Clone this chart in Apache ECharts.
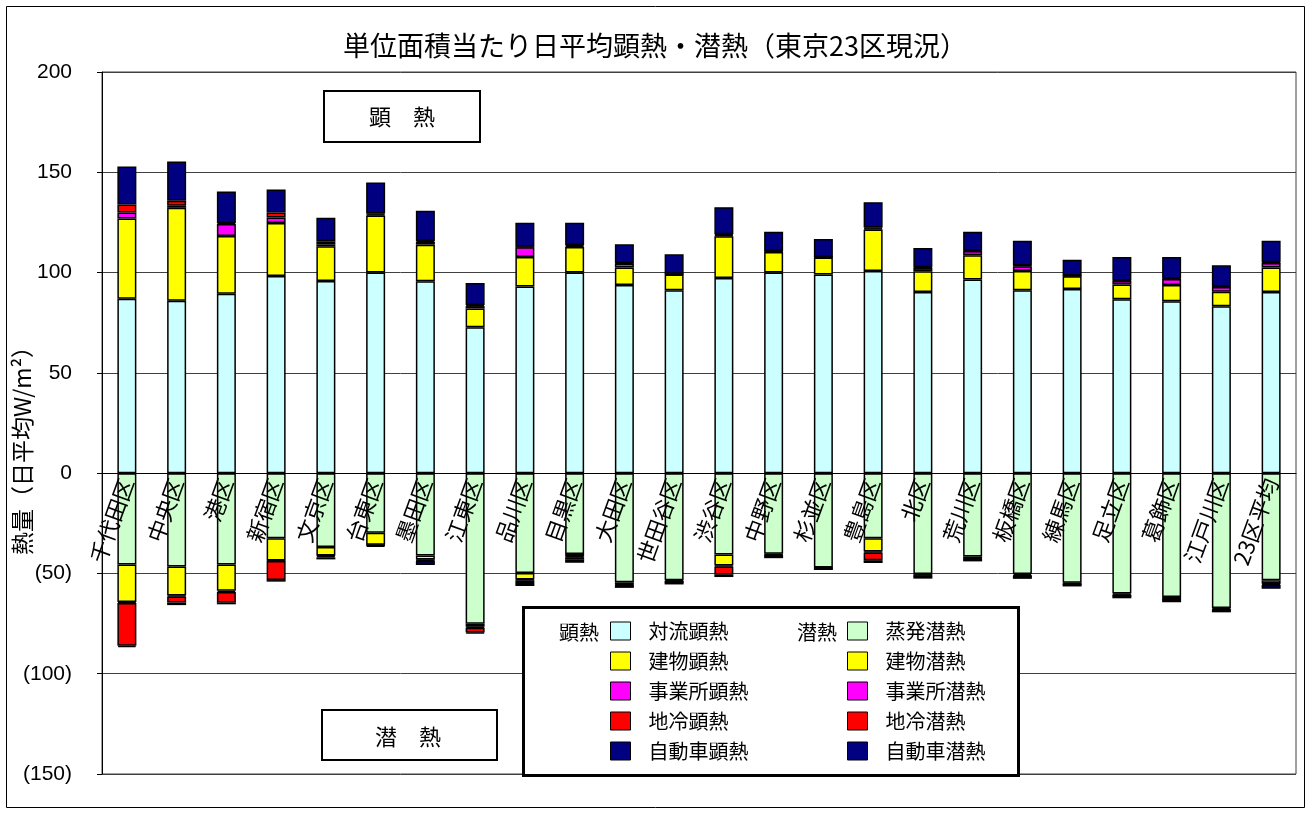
<!DOCTYPE html>
<html>
<head>
<meta charset="utf-8">
<script src="https://cdn.jsdelivr.net/npm/echarts@6/dist/echarts.min.js"></script>
<style>
  html, body { margin: 0; padding: 0; background: #fff; }
  #chart { width: 1310px; height: 814px; }
</style>
</head>
<body>
<div id="chart"></div>
<script>
// Wards of Tokyo plus the 23-ward average
const categories = ['千代田区','中央区','港区','新宿区','文京区','台東区','墨田区','江東区','品川区','目黒区','大田区','世田谷区','渋谷区','中野区','杉並区','豊島区','北区','荒川区','板橋区','練馬区','足立区','葛飾区','江戸川区','23区平均'];

// Sensible heat (W/m2, daily mean)
const convSensible   = [86.9, 85.9, 89.4, 98.3, 95.8, 100.0, 95.7, 72.8, 93.0, 100.0, 93.8, 91.2, 97.3, 100.0, 99.0, 100.8, 90.3, 96.5, 91.2, 91.8, 86.7, 85.7, 83.2, 90.3];
const bldgSensible   = [40.1, 46.4, 28.8, 26.4, 17.3, 28.5, 18.2, 9.3, 14.8, 12.7, 8.7, 7.8, 20.8, 10.3, 8.5, 20.7, 10.3, 12.1, 9.6, 6.4, 7.3, 8.1, 7.3, 12.2];
const officeSensible = [2.9, 1.0, 6.0, 2.7, 1.0, 0.5, 1.4, 1.2, 4.8, 0.5, 2.0, 0.3, 0.5, 0.3, 0.2, 0.5, 1.7, 2.1, 2.4, 0.3, 1.8, 3.0, 2.3, 2.3];
const dhcSensible    = [4.1, 2.5, 0.5, 2.5, 1.5, 0.5, 0.5, 0.5, 0.3, 0.5, 0.3, 0.1, 0.5, 0.2, 0.1, 0.5, 0.3, 0.3, 0.3, 0.1, 0.3, 0.3, 0.2, 0.3];
const carSensible    = [18.9, 19.6, 15.7, 11.5, 11.7, 15.4, 15.0, 11.0, 12.0, 11.2, 9.3, 9.7, 13.5, 9.6, 9.0, 12.6, 9.6, 9.4, 12.4, 7.8, 11.7, 10.7, 10.6, 10.8];

// Latent heat (W/m2, daily mean, plotted downward)
const evapLatent   = [-45.6, -46.5, -45.6, -32.5, -36.8, -29.7, -41.0, -75.1, -49.8, -40.3, -54.4, -53.4, -40.6, -40.2, -47.0, -32.5, -50.3, -41.5, -50.3, -54.7, -60.0, -61.7, -67.2, -53.4];
const bldgLatent   = [-18.6, -14.5, -13.0, -11.0, -4.2, -6.0, -2.1, -1.5, -3.2, -1.2, -1.1, -0.5, -5.5, -0.5, -0.3, -6.6, -0.8, -0.8, -0.7, -0.4, -0.6, -0.8, -0.6, -1.6];
const officeLatent = [-0.5, -0.5, -0.7, -0.3, -0.3, -0.2, -0.3, -0.5, -0.4, -0.4, -0.3, -0.2, -0.5, -0.2, -0.1, -0.5, -0.3, -0.3, -0.3, -0.2, -0.3, -0.3, -0.2, -0.3];
const dhcLatent    = [-21.4, -3.0, -5.3, -9.5, -0.7, -0.3, -0.4, -2.3, -1.4, -1.3, -0.2, -0.1, -4.0, -0.2, -0.1, -3.8, -0.1, -0.2, -0.1, -0.1, -0.1, -0.1, -0.1, -0.5];
const carLatent    = [-0.7, -1.3, -0.8, -0.8, -1.0, -0.6, -2.0, -0.5, -1.5, -1.5, -1.2, -1.3, -1.2, -1.3, -0.8, -1.4, -1.1, -1.2, -1.3, -1.1, -1.4, -1.5, -1.3, -1.9];

const sensibleNames = ['対流顕熱','建物顕熱','事業所顕熱','地冷顕熱','自動車顕熱'];
const latentNames   = ['蒸発潜熱','建物潜熱','事業所潜熱','地冷潜熱','自動車潜熱'];
const sensibleData  = [convSensible, bldgSensible, officeSensible, dhcSensible, carSensible];
const latentData    = [evapLatent, bldgLatent, officeLatent, dhcLatent, carLatent];
const sensibleColors = ['#CCFFFF','#FFFF00','#FF00FF','#FF0000','#000080'];
const latentColors   = ['#CCFFCC','#FFFF00','#FF00FF','#FF0000','#000080'];

const JP  = '"Noto Sans CJK JP", sans-serif';
const NUM = '"Liberation Sans", Arial, sans-serif';

// Value axis range and plot box
const Y_MIN = -150, Y_MAX = 200, Y_STEP = 50;
const GRID = { left: 102, right: 14, top: 72, bottom: 40 };
const CHART_H = 814;
// Category axis sits on the zero line: shift it up from the bottom edge of the plot
const plotH = CHART_H - GRID.top - GRID.bottom;
const zeroShift = plotH * (0 - Y_MIN) / (Y_MAX - Y_MIN);

function barSeries(name, data, color) {
  return {
    name: name,
    type: 'bar',
    stack: 'heat',
    barWidth: 19,
    data: data,
    itemStyle: { color: color, borderColor: '#000', borderWidth: 1.5 },
    emphasis: { disabled: true }
  };
}

const series = [];
sensibleNames.forEach((n, i) => series.push(barSeries(n, sensibleData[i], sensibleColors[i])));
latentNames.forEach((n, i) => series.push(barSeries(n, latentData[i], latentColors[i])));

const legendBase = {
  orient: 'vertical',
  top: 616,
  itemWidth: 20,
  itemHeight: 18,
  itemGap: 0,
  padding: 0,
  icon: 'rect',
  selectedMode: false,
  z: 20,
  itemStyle: { borderColor: '#000', borderWidth: 1 },
  textStyle: { fontFamily: JP, fontSize: 20, color: '#000', lineHeight: 30, padding: [0, 0, 0, 13] }
};

const chart = echarts.init(document.getElementById('chart'), null, { renderer: 'canvas' });
chart.setOption({
  animation: false,
  backgroundColor: '#fff',
  title: {
    text: '単位面積当たり日平均顕熱・潜熱（東京23区現況）',
    left: 'center',
    top: 27,
    textStyle: { fontFamily: JP, fontSize: 27, fontWeight: 'normal', color: '#000' }
  },
  grid: Object.assign({
    outerBoundsMode: 'none',
    containLabel: false,
    show: true, borderColor: '#404040', borderWidth: 1, backgroundColor: 'transparent'
  }, GRID),
  legend: [
    Object.assign({}, legendBase, { left: 610, data: sensibleNames }),
    Object.assign({}, legendBase, { left: 847, data: latentNames })
  ],
  xAxis: {
    type: 'category',
    data: categories,
    z: 10,
    position: 'bottom',
    offset: -zeroShift,
    axisLine: { onZero: false, lineStyle: { color: '#000', width: 1 } },
    axisTick: { inside: true, length: 7, lineStyle: { color: '#000' } },
    axisLabel: { interval: 0, rotate: 70, margin: 6, hideOverlap: false, fontFamily: JP, fontSize: 22, color: '#000' },
    splitLine: { show: false }
  },
  yAxis: {
    type: 'value',
    min: Y_MIN,
    max: Y_MAX,
    interval: Y_STEP,
    axisLine: { show: true, onZero: false, lineStyle: { color: '#000' } },
    axisTick: { show: true, length: 5, lineStyle: { color: '#000' } },
    axisLabel: {
      margin: 30,
      fontFamily: NUM,
      fontSize: 21,
      color: '#000',
      formatter: v => (v < 0 ? '(' + (-v) + ')' : String(v))
    },
    splitLine: { lineStyle: { color: '#404040', width: 1 } }
  },
  graphic: [
    { type: 'rect', silent: true, z: 0, shape: { x: 6.5, y: 6.5, width: 1298, height: 801 },
      style: { fill: 'none', stroke: '#000', lineWidth: 1 } },
    { type: 'text', silent: true, z: 5, x: 22, y: 445, rotation: Math.PI / 2,
      style: { text: '熱量（日平均W/m²）', fontFamily: JP, fontSize: 23, fill: '#000', align: 'center', verticalAlign: 'middle' } },
    { type: 'rect', silent: true, z: 15, shape: { x: 324, y: 91, width: 156, height: 51 },
      style: { fill: '#fff', stroke: '#000', lineWidth: 2 } },
    { type: 'text', silent: true, z: 16, x: 402, y: 117,
      style: { text: '顕　熱', fontFamily: JP, fontSize: 22, fill: '#000', align: 'center', verticalAlign: 'middle' } },
    { type: 'rect', silent: true, z: 15, shape: { x: 322, y: 710, width: 175, height: 50 },
      style: { fill: '#fff', stroke: '#000', lineWidth: 2 } },
    { type: 'text', silent: true, z: 16, x: 408, y: 737,
      style: { text: '潜　熱', fontFamily: JP, fontSize: 22, fill: '#000', align: 'center', verticalAlign: 'middle' } },
    { type: 'rect', silent: true, z: 15, shape: { x: 523.5, y: 607.5, width: 495, height: 168 },
      style: { fill: '#fff', stroke: '#000', lineWidth: 3 } },
    { type: 'text', silent: true, z: 16, x: 559, y: 632,
      style: { text: '顕熱', fontFamily: JP, fontSize: 20, fill: '#000', align: 'left', verticalAlign: 'middle' } },
    { type: 'text', silent: true, z: 16, x: 797, y: 632,
      style: { text: '潜熱', fontFamily: JP, fontSize: 20, fill: '#000', align: 'left', verticalAlign: 'middle' } }
  ],
  series: series
});
</script>
</body>
</html>
